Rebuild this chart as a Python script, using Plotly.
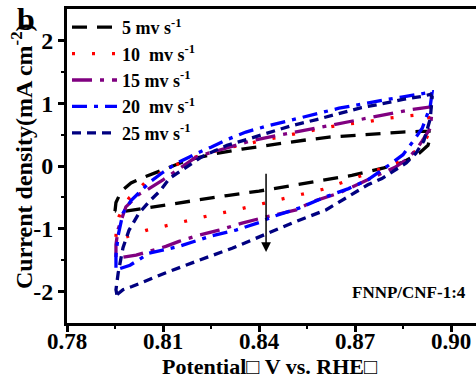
import plotly.graph_objects as go

# ---- data (potential V vs RHE, current density mA cm-2), loops traced anodic then cathodic ----
labels = ["5 mv s<sup>-1</sup>", "10  mv s<sup>-1</sup>", "15 mv s<sup>-1</sup>",
          "20  mv s<sup>-1</sup>", "25 mv s<sup>-1</sup>"]

v5 = [0.7950, 0.7953, 0.7970, 0.8000, 0.8030, 0.8066, 0.8100, 0.8128, 0.8160, 0.8200, 0.8266,
      0.8347, 0.8400, 0.8463, 0.8540, 0.8619, 0.8703, 0.8766, 0.8847, 0.8900, 0.8931, 0.8935,
      0.8928, 0.8900, 0.8850, 0.8790, 0.8734, 0.8690, 0.8619, 0.8540, 0.8484, 0.8400, 0.8300,
      0.8200, 0.8100, 0.8016, 0.7970, 0.7950]
j5 = [-0.72, -0.58, -0.40, -0.27, -0.20, -0.13, -0.06, 0.00, 0.06, 0.12, 0.20,
      0.27, 0.31, 0.36, 0.41, 0.46, 0.49, 0.52, 0.54, 0.55, 0.55, 0.45,
      0.33, 0.20, 0.06, -0.03, -0.09, -0.15, -0.21, -0.28, -0.33, -0.40, -0.47,
      -0.55, -0.63, -0.70, -0.73, -0.72]

v10 = [0.7953, 0.7955, 0.7963, 0.7994, 0.8047, 0.8109, 0.8175, 0.8250, 0.8313, 0.8400, 0.8480,
       0.8560, 0.8659, 0.8734, 0.8800, 0.8872, 0.8928, 0.8935, 0.8925, 0.8900, 0.8860, 0.8806,
       0.8734, 0.8672, 0.8600, 0.8534, 0.8463, 0.8400, 0.8328, 0.8253, 0.8191, 0.8119, 0.8050,
       0.7984, 0.7955, 0.7953]
j10 = [-1.13, -0.95, -0.80, -0.51, -0.25, -0.06, 0.10, 0.22, 0.30, 0.40, 0.48,
       0.56, 0.66, 0.70, 0.76, 0.80, 0.83, 0.65, 0.46, 0.28, 0.12, 0.00,
       -0.13, -0.25, -0.37, -0.45, -0.54, -0.62, -0.70, -0.78, -0.86, -0.94, -1.02,
       -1.13, -1.15, -1.13]

v15 = [0.7953, 0.7953, 0.7960, 0.7984, 0.8025, 0.8050, 0.8100, 0.8141, 0.8200, 0.8240, 0.8300,
       0.8375, 0.8450, 0.8530, 0.8620, 0.8700, 0.8770, 0.8830, 0.8880, 0.8909, 0.8935, 0.8941,
       0.8935, 0.8910, 0.8890, 0.8860, 0.8825, 0.8790, 0.8740, 0.8690, 0.8650, 0.8566, 0.8516,
       0.8422, 0.8347, 0.8275, 0.8213, 0.8150, 0.8109, 0.8016, 0.7963, 0.7953]
j15 = [-1.45, -1.25, -1.00, -0.65, -0.45, -0.38, -0.22, -0.08, 0.13, 0.20, 0.29,
       0.40, 0.48, 0.56, 0.65, 0.73, 0.80, 0.86, 0.90, 0.92, 0.94, 0.89,
       0.60, 0.40, 0.25, 0.10, -0.02, -0.10, -0.22, -0.33, -0.43, -0.57, -0.70,
       -0.81, -0.91, -1.02, -1.10, -1.20, -1.28, -1.42, -1.46, -1.45]

v20 = [0.7953, 0.7953, 0.7960, 0.7975, 0.8000, 0.8034, 0.8060, 0.8100, 0.8141, 0.8181, 0.8200,
       0.8250, 0.8300, 0.8359, 0.8420, 0.8500, 0.8570, 0.8650, 0.8703, 0.8753, 0.8800, 0.8850,
       0.8890, 0.8931, 0.8941, 0.8935, 0.8910, 0.8878, 0.8850, 0.8810, 0.8775, 0.8740, 0.8680,
       0.8609, 0.8525, 0.8441, 0.8400, 0.8328, 0.8253, 0.8150, 0.8056, 0.7997, 0.7956, 0.7953]
j20 = [-1.62, -1.42, -1.10, -0.75, -0.55, -0.38, -0.25, -0.10, 0.04, 0.14, 0.19,
       0.30, 0.42, 0.54, 0.63, 0.73, 0.82, 0.92, 0.97, 1.02, 1.06, 1.10,
       1.14, 1.17, 1.18, 0.95, 0.60, 0.37, 0.18, 0.03, -0.10, -0.22, -0.36,
       -0.49, -0.67, -0.81, -0.90, -1.02, -1.11, -1.28, -1.39, -1.58, -1.65, -1.62]

v25 = [0.7956, 0.7953, 0.7960, 0.7975, 0.7994, 0.8025, 0.8060, 0.8090, 0.8120, 0.8150, 0.8181,
       0.8222, 0.8266, 0.8300, 0.8347, 0.8420, 0.8500, 0.8580, 0.8650, 0.8720, 0.8784, 0.8850,
       0.8910, 0.8935, 0.8941, 0.8935, 0.8915, 0.8890, 0.8860, 0.8816, 0.8784, 0.8740, 0.8691,
       0.8609, 0.8503, 0.8400, 0.8316, 0.8213, 0.8109, 0.8003, 0.7975, 0.7956]
j25 = [-2.05, -1.97, -1.70, -1.30, -1.02, -0.75, -0.55, -0.40, -0.20, -0.10, 0.00,
       0.15, 0.25, 0.33, 0.40, 0.52, 0.64, 0.74, 0.84, 0.93, 0.99, 1.06,
       1.11, 1.14, 1.10, 0.75, 0.40, 0.20, 0.05, -0.10, -0.20, -0.30, -0.45,
       -0.70, -0.91, -1.13, -1.31, -1.50, -1.70, -1.92, -1.97, -2.05]

x_ticks = [0.78, 0.81, 0.84, 0.87, 0.90]
x_ticklabels = ["0.78", "0.81", "0.84", "0.87", "0.90"]
y_ticks = [-2, -1, 0, 1, 2]
y_ticklabels = ["-2", "-1", "0", "1", "2"]

colors = ["#000000", "#ff0000", "#800080", "#0000ff", "#000080"]
dashes = ["15px,10px", "3px,17px", "20px,8px,4px,8px", "15px,7px,4px,7px", "9px,6px"]

FONT = "Liberation Serif"

fig = go.Figure()
for vx, jy, name, c, d in zip([v5, v10, v15, v20, v25], [j5, j10, j15, j20, j25],
                              labels, colors, dashes):
    fig.add_trace(go.Scatter(x=vx, y=jy, mode="lines", name=name,
                             line=dict(color=c, width=3.3, dash=d)))

fig.update_layout(
    width=476, height=378,
    margin=dict(l=67, r=0, t=9, b=55),
    paper_bgcolor="white", plot_bgcolor="white",
    font=dict(family=FONT, size=20, color="black", weight="bold"),
    showlegend=True,
    legend=dict(x=0.0, y=1.0, xanchor="left", yanchor="top",
                bgcolor="rgba(0,0,0,0)", font=dict(size=18, family=FONT, weight="bold"),
                tracegroupgap=0, itemwidth=45),
    xaxis=dict(range=[0.78, 0.9078], tickvals=x_ticks, ticktext=x_ticklabels,
               showgrid=False, zeroline=False, showline=True, linecolor="black", linewidth=3,
               mirror=True, ticks="outside", ticklen=6, tickwidth=2.5, tickcolor="black",
               ticklabelstandoff=-11,
               minor=dict(tickvals=[0.795, 0.825, 0.855, 0.885], ticks="outside",
                          ticklen=3, tickwidth=2, tickcolor="black"),
               tickfont=dict(size=23, family=FONT, weight="bold")),
    yaxis=dict(range=[-2.5, 2.5], tickvals=y_ticks, ticktext=y_ticklabels,
               showgrid=False, zeroline=False, showline=True, linecolor="black", linewidth=3,
               mirror=False, ticks="outside", ticklen=6, tickwidth=2.5, tickcolor="black",
               minor=dict(tickvals=[-1.5, -0.5, 0.5, 1.5], ticks="outside",
                          ticklen=3, tickwidth=2, tickcolor="black"),
               tickfont=dict(size=24, family=FONT, weight="bold")),
)

fig.add_annotation(x=-0.110, y=0.532, xref="paper", yref="paper", showarrow=False,
                   xanchor="center", yanchor="middle",
                   text="Current density(mA cm<sup>-2</sup>)", textangle=-90,
                   font=dict(size=24, family=FONT, weight="bold"))
fig.add_annotation(x=0.495, y=-0.138, xref="paper", yref="paper", showarrow=False,
                   xanchor="center", yanchor="middle",
                   text="Potential\u25a1 V vs. RHE\u25a1",
                   font=dict(size=22, family=FONT, weight="bold"))
fig.add_annotation(x=-0.10, y=0.968, xref="paper", yref="paper", showarrow=False,
                   xanchor="center", yanchor="middle", text="b",
                   font=dict(size=32, family=FONT, weight="bold"))
fig.add_annotation(x=0.98, y=0.096, xref="paper", yref="paper", showarrow=False,
                   xanchor="right", yanchor="middle", text="FNNP/CNF-1:4",
                   font=dict(size=17, family=FONT, weight="bold"))
fig.add_annotation(x=0.8422, y=-1.37, ax=0.8422, ay=-0.10, xref="x", yref="y",
                   axref="x", ayref="y", showarrow=True, arrowhead=2, arrowsize=1.3,
                   arrowwidth=1.5, arrowcolor="black", text="")

fig.write_html("out.html", config={"displayModeBar": False},
               post_script="document.body.style.margin='0';")
